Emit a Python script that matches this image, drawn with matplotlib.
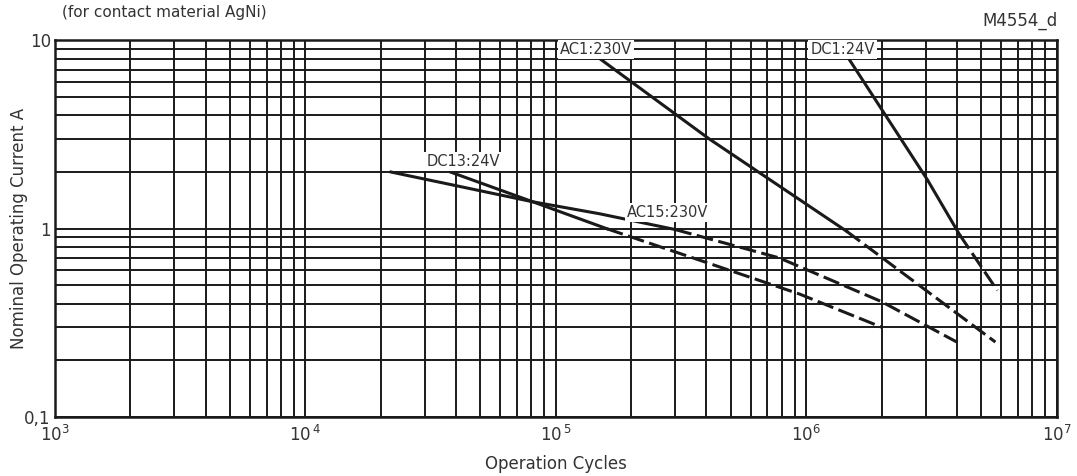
import matplotlib
matplotlib.use("Agg")
import matplotlib.pyplot as plt
from matplotlib.ticker import LogLocator, NullFormatter, FixedLocator, FixedFormatter

plt.rcParams['font.family'] = ['Liberation Sans Narrow', 'DejaVu Sans']
plt.rcParams['mathtext.default'] = 'regular'

# curves: solid part (>= ~1 A) and dashed part (< ~1 A)
ac1_x_solid = [1.5e5, 4.1e5, 1.45e6]
ac1_y_solid = [8.0, 3.0, 0.97]
ac1_x_dash = [1.45e6, 5.7e6]
ac1_y_dash = [0.97, 0.25]

dc1_x_solid = [1.48e6, 3.05e6, 4.1e6]
dc1_y_solid = [8.0, 1.82, 0.93]
dc1_x_dash = [4.1e6, 5.8e6]
dc1_y_dash = [0.93, 0.47]

ac15_x_solid = [2.2e4, 8.1e4, 1.5e5, 3.0e5]
ac15_y_solid = [2.0, 1.39, 1.2, 0.99]
ac15_x_dash = [3.0e5, 7.8e5, 2.0e6, 4.0e6]
ac15_y_dash = [0.99, 0.70, 0.41, 0.25]

dc13_x_solid = [3.8e4, 8.1e4, 1.6e5]
dc13_y_solid = [2.0, 1.39, 1.0]
dc13_x_dash = [1.6e5, 9.4e5, 2.0e6]
dc13_y_dash = [1.0, 0.45, 0.30]

labels = ['AC1:230V', 'DC1:24V', 'DC13:24V', 'AC15:230V']

fig = plt.figure(figsize=(10.77, 4.76), dpi=100)
ax = fig.add_axes([0.051, 0.124, 0.930, 0.791])
ax.set_xscale('log')
ax.set_yscale('log')
ax.set_xlim(1e3, 1e7)
ax.set_ylim(0.1, 10)

ax.grid(True, which='both', color='#1a1a1a', linewidth=1.4)
ax.set_axisbelow(True)
ax.xaxis.set_minor_locator(LogLocator(base=10, subs=range(2, 10)))
ax.yaxis.set_minor_locator(LogLocator(base=10, subs=range(2, 10)))
ax.xaxis.set_minor_formatter(NullFormatter())
ax.yaxis.set_minor_formatter(NullFormatter())
ax.xaxis.set_major_locator(FixedLocator([1e3, 1e4, 1e5, 1e6, 1e7]))
ax.xaxis.set_major_formatter(FixedFormatter([r'$10^3$', r'$10^{\,4}$', r'$10^{\,5}$', r'$10^6$', r'$10^7$']))
ax.yaxis.set_major_locator(FixedLocator([0.1, 1, 10]))
ax.yaxis.set_major_formatter(FixedFormatter(['0,1', '1', '10']))
ax.tick_params(which='both', length=0, labelsize=12, labelcolor='#333333')
ax.tick_params(axis='x', pad=6)
ax.tick_params(axis='y', pad=3)
for s in ax.spines.values():
    s.set_linewidth(1.8)
    s.set_color('#1a1a1a')

lw = 2.2
col = '#1a1a1a'
dash = (0, (5.5, 1.8))
ax.plot(ac1_x_solid, ac1_y_solid, color=col, lw=lw)
ax.plot(ac1_x_dash, ac1_y_dash, color=col, lw=lw, ls=dash)
ax.plot(dc1_x_solid, dc1_y_solid, color=col, lw=lw)
ax.plot(dc1_x_dash, dc1_y_dash, color=col, lw=lw, ls=dash)
ax.plot(ac15_x_solid, ac15_y_solid, color=col, lw=lw)
ax.plot(ac15_x_dash, ac15_y_dash, color=col, lw=lw, ls=dash)
ax.plot(dc13_x_solid, dc13_y_solid, color=col, lw=lw)
ax.plot(dc13_x_dash, dc13_y_dash, color=col, lw=lw, ls=dash)

box = dict(facecolor='white', edgecolor='none', pad=1.5)
ax.text(1.45e5, 9.0, labels[0], ha='center', va='center', fontsize=10.5, color='#333333', bbox=box)
ax.text(1.4e6, 9.0, labels[1], ha='center', va='center', fontsize=10.5, color='#333333', bbox=box)
ax.text(4.26e4, 2.27, labels[2], ha='center', va='center', fontsize=10.5, color='#333333', bbox=box)
ax.text(2.8e5, 1.22, labels[3], ha='center', va='center', fontsize=10.5, color='#333333', bbox=box)

ax.set_xlabel('Operation Cycles', fontsize=12, color='#333333', labelpad=7)
ax.set_ylabel('Nominal Operating Current A', fontsize=12, color='#333333', labelpad=-3)

fig.text(0.058, 0.99, '(for contact material AgNi)', ha='left', va='top', fontsize=11, color='#333333')
fig.text(0.982, 0.975, 'M4554_d', ha='right', va='top', fontsize=12, color='#333333')

fig.savefig('out.png', dpi=100)
